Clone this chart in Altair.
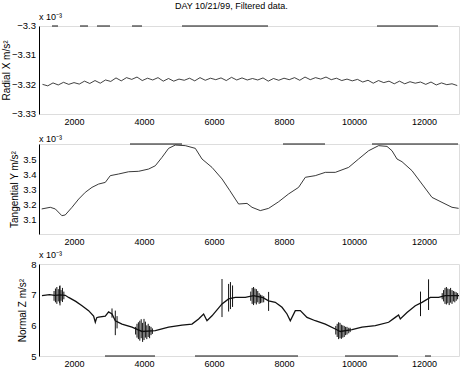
import altair as alt
import pandas as pd

FONT = "Liberation Sans"

# ---------- data ----------
title_text = "DAY 10/21/99, Filtered data."
x_ticks = [2000, 4000, 6000, 8000, 10000, 12000]

# Panel 1: Radial X (values shown as -3.32 etc.)
radial_ticks = [-3.33, -3.32, -3.31, -3.30]
radial_tick_labels = ["\u22123.33", "\u22123.32", "\u22123.31", "\u22123.3"]
radial_x = list(range(1100, 13000, 150))
radial_dev_e4 = [1, -4, 6, -1, 8, 1, 7, 2, 12, 4,
                 14, 5, 16, 11, 23, 13, 24, 18, 26, 14,
                 22, 16, 24, 12, 21, 12, 19, 15, 22, 13,
                 24, 15, 22, 17, 23, 14, 25, 16, 23, 16,
                 21, 16, 23, 12, 21, 15, 22, 17, 24, 15,
                 26, 17, 24, 19, 26, 17, 22, 14, 19, 13,
                 18, 9, 15, 5, 14, 7, 12, 3, 12, 3,
                 10, 5, 9, 1, 9, -1, 6, 0, 3, -3]
radial_y = [-3.32 + d * 1e-4 for d in radial_dev_e4]

# Panel 2: Tangential Y
tang_x = [1077, 1323, 1466, 1654, 1750, 1943, 2134, 2323, 2514, 2703, 2894, 3037,
          3274, 3560, 3846, 4131, 4323, 4514, 4703, 4894, 5180, 5466, 5657, 5943,
          6229, 6450, 6609, 6703, 6943, 7086, 7323, 7560, 7846, 8131, 8417, 8609,
          8894, 9180, 9466, 9846, 10131, 10417, 10703, 10943, 11086, 11229, 11371,
          11657, 11943, 12229, 12514, 12800, 12989]
tang_y = [3.167, 3.178, 3.167, 3.122, 3.127, 3.178, 3.233, 3.278, 3.311, 3.333, 3.344, 3.389,
          3.400, 3.415, 3.418, 3.433, 3.455, 3.511, 3.571, 3.593, 3.589, 3.571, 3.500, 3.444,
          3.367, 3.290, 3.233, 3.200, 3.204, 3.178, 3.156, 3.171, 3.215, 3.267, 3.311, 3.378,
          3.389, 3.411, 3.411, 3.444, 3.500, 3.555, 3.589, 3.584, 3.555, 3.500, 3.482,
          3.422, 3.333, 3.244, 3.211, 3.178, 3.171]

# Panel 3: Normal Z
norm_x = [1085, 1300, 1450, 1600, 1750, 1846, 2050, 2229, 2417, 2560, 2609, 2650, 2703,
          2894, 2989, 3086, 3180, 3371, 3657, 3943, 4323, 4703, 5086, 5371, 5560, 5703,
          5800, 5943, 6229, 6417, 6609, 6894, 7131, 7400, 7560, 7751, 7943, 8086, 8180,
          8323, 8466, 8657, 8894, 9180, 9466, 9609, 9943, 10229, 10609, 10989, 11180,
          11274, 11323, 11514, 11751, 11943, 12180, 12417, 12609, 13000]
norm_y = [6.97, 7.00, 6.98, 6.99, 6.98, 6.91, 6.78, 6.64, 6.48, 6.30, 6.10, 6.25, 6.27,
          6.30, 6.44, 6.37, 6.15, 6.04, 5.94, 5.80, 5.83, 5.94, 6.01, 6.04, 6.21, 6.37,
          6.15, 6.31, 6.70, 6.86, 6.91, 6.91, 6.97, 6.90, 6.80, 6.75, 6.59, 6.37, 6.15,
          6.48, 6.48, 6.26, 6.15, 6.04, 5.88, 5.80, 5.86, 5.94, 5.99, 6.10, 6.26,
          6.34, 6.21, 6.42, 6.64, 6.75, 6.91, 6.91, 6.97, 6.97]

# Panel 3 bursts of vibration (x, low, high)
spike_x = [1430, 1470, 1510, 1550, 1590, 1600, 1630, 1670, 1710,
           3086, 3180, 3230,
           3760, 3800, 3840, 3880, 3920, 3960, 4000, 4040, 4080, 4120, 4160, 4200, 4240,
           6229, 6417, 6470, 6530,
           7050, 7090, 7130, 7170, 7210, 7250, 7290, 7330, 7370, 7420,
           7560,
           9480, 9520, 9560, 9600, 9640, 9680, 9720, 9760, 9800, 9850, 9890,
           11900, 12130,
           12520, 12560, 12600, 12640, 12680, 12720, 12760, 12800, 12840, 12880, 12920, 12960]
spike_lo = [6.80, 6.75, 6.70, 6.78, 6.72, 6.65, 6.80, 6.76, 6.85,
            6.25, 5.68, 5.90,
            5.70, 5.60, 5.55, 5.50, 5.58, 5.46, 5.52, 5.60, 5.55, 5.62, 5.58, 5.68, 5.72,
            6.27, 6.45, 6.53, 6.60,
            6.80, 6.70, 6.66, 6.72, 6.68, 6.75, 6.70, 6.72, 6.74, 6.75,
            6.47,
            5.70, 5.62, 5.55, 5.58, 5.56, 5.60, 5.62, 5.68, 5.70, 5.74, 5.78,
            6.30, 6.50,
            6.85, 6.78, 6.70, 6.68, 6.72, 6.66, 6.74, 6.70, 6.78, 6.75, 6.80, 6.85]
spike_hi = [7.12, 7.20, 7.25, 7.18, 7.28, 7.30, 7.15, 7.22, 7.10,
            6.55, 6.48, 6.30,
            5.95, 6.05, 6.10, 6.15, 6.20, 6.08, 6.21, 6.12, 6.00, 6.05, 5.98, 5.95, 5.90,
            7.51, 7.35, 7.41, 7.30,
            7.10, 7.22, 7.25, 7.20, 7.18, 7.12, 7.05, 7.00, 6.98, 6.95,
            7.09,
            5.98, 6.05, 6.10, 6.08, 6.02, 6.00, 5.98, 5.95, 5.95, 5.92, 5.92,
            7.10, 7.50,
            7.05, 7.15, 7.22, 7.25, 7.20, 7.18, 7.22, 7.15, 7.12, 7.10, 7.08, 7.05]

# ---------- chart ----------
W = 420
xscale = alt.Scale(domain=[1000, 13000], nice=False, zero=False)
xaxis = alt.Axis(values=x_ticks, tickCount=20, format="d", title=None, grid=False,
                 domain=False, ticks=False, labelPadding=3, labelFontSize=9,
                 labelColor="black", labelFont=FONT, labelOverlap=False)


def yaxis(title, fmt, count, values=None, labels=True, title_pad=3):
    kw = dict(title=title, tickCount=count, format=fmt, grid=False,
              ticks=False, domainColor="black", domainWidth=1, labelPadding=3,
              titlePadding=title_pad, titleFontWeight="normal", titleFontSize=10,
              titleFont=FONT, titleColor="black", labelFontSize=9.5,
              labelColor="black", labelFont=FONT, labelOverlap=False,
              labelBound=False, labelFlush=False, labels=labels)
    if values is not None:
        kw["values"] = values
    return alt.Axis(**kw)


def sub_title():
    return alt.TitleParams("x 10\u207b\u00b3", anchor="start", frame="group", fontSize=9,
                           fontWeight="normal", font=FONT, color="black", offset=-1)


def border(value, yscale, yax, dash):
    return alt.Chart(pd.DataFrame({"y": [value]})).mark_rule(
        color="#111", strokeWidth=1, strokeDash=dash).encode(
        x=alt.value(0), x2=alt.value(W), y=alt.Y("y:Q", scale=yscale, axis=yax))


# Panel 1
df1 = pd.DataFrame({"x": radial_x, "y": radial_y})
ys1 = alt.Scale(domain=[-3.33, -3.30], nice=False, zero=False)
ya1 = yaxis("Radial X m/s\u00b2", ".2~f", 4, labels=False, title_pad=28)
p1_line = alt.Chart(df1).mark_line(color="#111", strokeWidth=0.8).encode(
    x=alt.X("x:Q", scale=xscale, axis=xaxis),
    y=alt.Y("y:Q", scale=ys1, axis=ya1),
)
p1_labels = alt.Chart(pd.DataFrame({"v": radial_ticks, "t": radial_tick_labels})).mark_text(
    align="right", baseline="middle", font=FONT, fontSize=9.5, color="black").encode(
    x=alt.value(-3), y=alt.Y("v:Q", scale=ys1, axis=ya1), text="t:N")
p1_top = border(-3.30, ys1, ya1, [0, 13, 6, 22, 8, 9, 13, 22, 10, 40, 86, 109, 61, 100])
p1 = alt.layer(p1_line, p1_labels, p1_top).properties(width=W, height=88, title=sub_title())

# Panel 2
df2 = pd.DataFrame({"x": tang_x, "y": tang_y})
ys2 = alt.Scale(domain=[3.0, 3.6], nice=False, zero=False)
ya2 = yaxis("Tangential Y m/s\u00b2", ".1f", 20, [3.1, 3.2, 3.3, 3.4, 3.5])
p2_line = alt.Chart(df2).mark_line(color="#222", strokeWidth=0.9).encode(
    x=alt.X("x:Q", scale=xscale, axis=xaxis),
    y=alt.Y("y:Q", scale=ys2, axis=ya2),
)
p2_top = border(3.6, ys2, ya2, [0, 91, 52, 101, 42, 47, 86, 100])
p2 = alt.layer(p2_line, p2_top).properties(width=W, height=90, title=sub_title())

# Panel 3
df3 = pd.DataFrame({"x": norm_x, "y": norm_y})
dfs = pd.DataFrame({"x": spike_x, "lo": spike_lo, "hi": spike_hi})
ys3 = alt.Scale(domain=[5, 8], nice=False, zero=False)
ya3 = yaxis("Normal Z m/s\u00b2", "d", 20, [5, 6, 7, 8])
p3_line = alt.Chart(df3).mark_line(color="#111", strokeWidth=1.3).encode(
    x=alt.X("x:Q", scale=xscale, axis=xaxis),
    y=alt.Y("y:Q", scale=ys3, axis=ya3),
)
p3_spk = alt.Chart(dfs).mark_rule(color="#111", strokeWidth=1).encode(
    x=alt.X("x:Q", scale=xscale, axis=xaxis),
    y=alt.Y("lo:Q", scale=ys3, axis=ya3),
    y2="hi:Q",
)
p3_bot = border(5, ys3, ya3, [0, 66, 50, 40, 103, 47, 53, 27, 6, 100])
p3 = alt.layer(p3_line, p3_spk, p3_bot).properties(width=W, height=92, title=sub_title())

chart = alt.vconcat(p1, p2, p3, spacing=30, bounds="flush").properties(
    title=alt.TitleParams(title_text, anchor="middle", fontSize=9, fontWeight="normal",
                          font=FONT, color="black", offset=2),
    padding={"left": 0, "top": 1, "right": 0, "bottom": 0},
).configure_view(strokeWidth=0).configure(background="white")

chart.save("out.html", embed_options={"renderer": "svg", "actions": False})
